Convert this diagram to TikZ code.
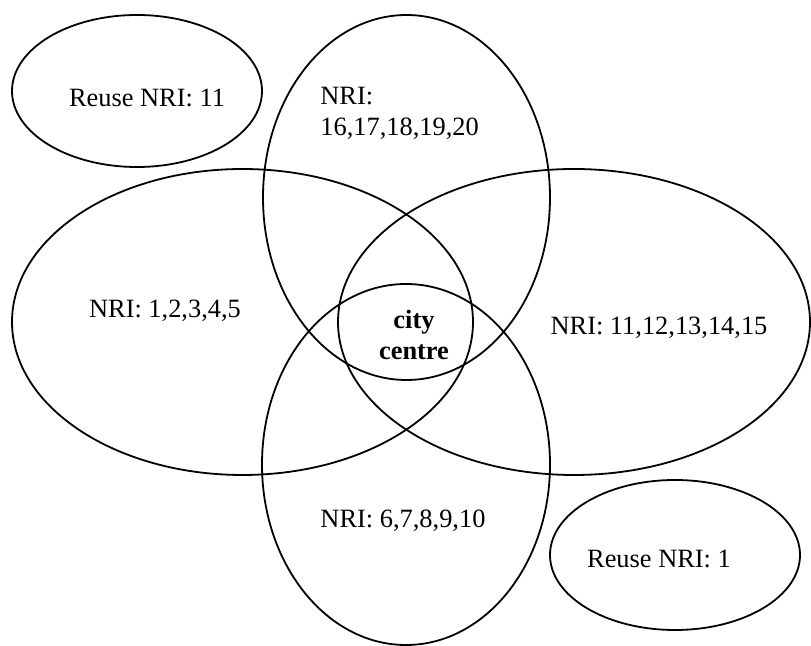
\documentclass[tikz,border=0pt]{standalone}
\usepackage{fontspec}
\setmainfont{Liberation Serif}
\usetikzlibrary{shapes.geometric}

\begin{document}
\begin{tikzpicture}[x=0.5pt, y=-0.5pt,
    zone/.style={draw, ellipse, line width=0.9pt, inner sep=0pt},
    lbl/.style={font=\fontsize{13.2}{15.5}\selectfont, inner sep=0pt}]
    % Fix the page to the size of the original picture
    \useasboundingbox (0,0) rectangle (811,646);

    % The four overlapping areas round the city centre
    \node[zone, minimum width=143.5pt, minimum height=182.5pt] (north) at (406.5,197.5) {};
    \node[zone, minimum width=230.5pt, minimum height=153pt]   (west)  at (242.5,322) {};
    \node[zone, minimum width=236pt,   minimum height=153pt]   (east)  at (574,322) {};
    \node[zone, minimum width=144pt,   minimum height=180.5pt] (south) at (406,464.5) {};

    % The two reuse areas
    \node[zone, minimum width=125pt, minimum height=76pt] (reuseA) at (137,91) {};
    \node[zone, minimum width=125pt, minimum height=75pt] (reuseB) at (675,555) {};

    % Labels of the areas
    \node[lbl, anchor=base] (reuseAtxt) at (147,107) {Reuse NRI: 11};
    \node[lbl, anchor=west, align=left] (northtxt) at (320,113) {NRI:\\16,17,18,19,20};
    \node[lbl, anchor=base] (westtxt) at (165,318) {NRI: 1,2,3,4,5};
    \node[lbl, anchor=base] (easttxt) at (659,335) {NRI: 11,12,13,14,15};
    \node[lbl, anchor=base] (southtxt) at (403,528) {NRI: 6,7,8,9,10};
    \node[lbl, anchor=base] (reuseBtxt) at (659,568) {Reuse NRI: 1};

    % The middle, where all four meet
    \node[lbl, align=center, font=\fontsize{13.2}{15.5}\selectfont\bfseries] (centre) at (414,335) {city\\centre};
\end{tikzpicture}
\end{document}
